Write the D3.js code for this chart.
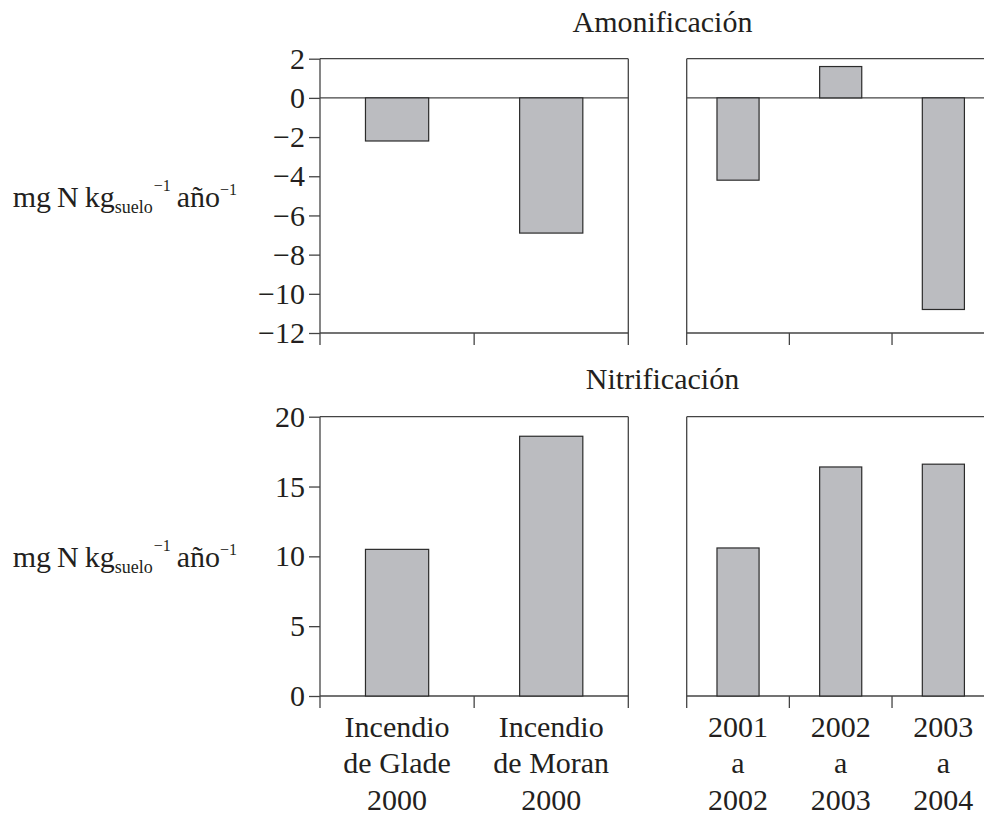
<!DOCTYPE html>
<html>
<head>
<meta charset="utf-8">
<script src="https://cdn.jsdelivr.net/npm/d3@7"></script>
</head>
<body style="margin:0">
<script>
// categories
const fireLabels = [["Incendio", "de Glade", "2000"], ["Incendio", "de Moran", "2000"]]
const yearLabels = [["2001", "a", "2002"], ["2002", "a", "2003"], ["2003", "a", "2004"]]

// series values (mg N kg suelo-1 año-1)
const ammonFire = [-2.2, -6.9]
const ammonYear = [-4.2, 1.6, -10.8]
const nitrFire = [10.5, 18.6]
const nitrYear = [10.6, 16.4, 16.6]

// tick labels
const ammonTicks = [2, 0, -2, -4, -6, -8, -10, -12]
const nitrTicks = [0, 5, 10, 15, 20]

const width = 984, height = 814
const ink = "#444"
const barInk = "#2b2b2b"
const textInk = "#231f20"
const fontSize = "30px"
const barFill = "#bbbcc0"
const leftPanel = [320, 628.3]
const rightPanel = [686.7, 994.7]  // right edge runs past the window

const svg = d3.select("body").append("svg")
  .attr("width", width)
  .attr("height", height)
  .attr("font-family", "Liberation Serif")
  .style("display", "block")

const yAmmon = d3.scaleLinear().domain([-12, 2]).range([333, 58.7])
const yNitr = d3.scaleLinear().domain([0, 20]).range([696, 416.7])

function serifText(sel) {
  return sel
    .style("font-family", '"Liberation Serif"')
    .style("font-size", fontSize)
    .attr("fill", textInk)
}

/**
 * Draws one framed panel: box, zero line, bars, boundary ticks
 */
function drawPanel(range, labels, values, y, opts) {
  const g = svg.append("g")
  const x = d3.scaleBand()
    .domain(d3.range(labels.length))
    .range(range)
    .padding(0)
  const barW = x.bandwidth() * 0.41
  const [yTop, yBot] = [y.range()[1], y.range()[0]]

  // frame
  const frame = [
    [range[0], yTop, range[1], yTop],
    [range[0], yBot, range[1], yBot],
    [range[0], yTop, range[0], yBot + 12],
    [range[1], yTop, range[1], yBot + 12],
  ]
  if (y(0) !== yBot) frame.push([range[0], y(0), range[1], y(0)])
  // boundary ticks between categories
  for (let i = 1; i < labels.length; i++) {
    frame.push([x(i), yBot, x(i), yBot + 12])
  }
  g.selectAll("line.frame")
    .data(frame)
    .enter()
    .append("line")
      .attr("x1", d => d[0]).attr("y1", d => d[1])
      .attr("x2", d => d[2]).attr("y2", d => d[3])
      .attr("stroke", ink)
      .attr("stroke-width", 1.3)

  // bars
  g.selectAll("rect.bar")
    .data(values)
    .enter()
    .append("rect")
      .attr("class", "bar")
      .attr("x", (d, i) => x(i) + (x.bandwidth() - barW) / 2)
      .attr("width", barW)
      .attr("y", d => y(Math.max(0, d)))
      .attr("height", d => Math.abs(y(d) - y(0)))
      .attr("fill", barFill)
      .attr("stroke", barInk)
      .attr("stroke-width", 1.2)

  // category labels
  if (opts.labels) {
    const lab = g.selectAll("text.cat")
      .data(labels)
      .enter()
      .append("text")
        .attr("class", "cat")
        .attr("text-anchor", "middle")
        .call(serifText)
    lab.selectAll("tspan")
      .data((d, i) => d.map(t => ({ t, i })))
      .enter()
      .append("tspan")
        .attr("x", d => x(d.i) + x.bandwidth() / 2)
        .attr("y", (d, j) => yBot + 41 + j * 36.4)
        .text(d => d.t)
  }

  // y axis
  if (opts.ticks) {
    const ax = svg.append("g")
      .attr("transform", `translate(${range[0]},0)`)
      .call(d3.axisLeft(y).tickValues(opts.ticks).tickSize(11).tickPadding(4))
    ax.attr("font-family", "Liberation Serif").attr("font-size", null)
    ax.select(".domain").remove()
    ax.selectAll(".tick line").attr("stroke", ink).attr("stroke-width", 1.3)
    ax.selectAll(".tick text").call(serifText)
  }
}

drawPanel(leftPanel, fireLabels, ammonFire, yAmmon, { ticks: ammonTicks })
drawPanel(rightPanel, yearLabels, ammonYear, yAmmon, {})
drawPanel(leftPanel, fireLabels, nitrFire, yNitr, { ticks: nitrTicks, labels: true })
drawPanel(rightPanel, yearLabels, nitrYear, yNitr, { labels: true })

// Titles
svg.append("text")
  .attr("x", 662.5).attr("y", 31.7)
  .attr("text-anchor", "middle")
  .call(serifText)
  .text("Amonificación")
svg.append("text")
  .attr("x", 662.5).attr("y", 389.3)
  .attr("text-anchor", "middle")
  .call(serifText)
  .text("Nitrificación")

// Y axis unit labels
function unitLabel(baseline) {
  const t = svg.append("text")
    .attr("x", 12.7).attr("y", baseline)
    .call(serifText)
  t.append("tspan").text("mg\u2009N\u2009kg")
  t.append("tspan").attr("dy", 6).style("font-size", "18px").text("suelo")
  t.append("tspan").attr("dy", -22).attr("dx", 1).style("font-size", "16px").text("\u22121")
  t.append("tspan").attr("dy", 16).text("\u2009año")
  t.append("tspan").attr("dy", -12).style("font-size", "16px").text("\u22121")
}
unitLabel(206.7)
unitLabel(566.7)
</script>
</body>
</html>
